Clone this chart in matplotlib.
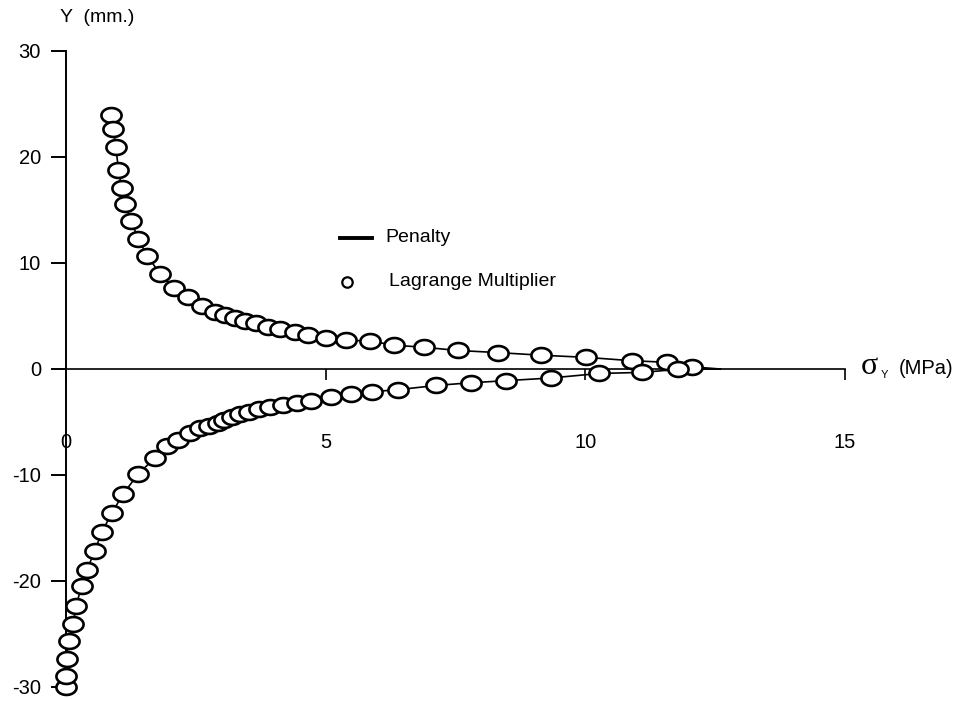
import numpy as np
import matplotlib
matplotlib.use("Agg")
import matplotlib.pyplot as plt
from matplotlib.path import Path

plt.rcParams['font.family'] = ['Liberation Sans', 'DejaVu Sans']

# Lagrange multiplier solution, upper branch (sigma_Y in MPa, Y in mm)
upper_sigma = [0.87, 0.91, 0.96, 1.01, 1.07, 1.14, 1.25, 1.39, 1.56, 1.81, 2.08, 2.35,
               2.61, 2.87, 3.06, 3.25, 3.44, 3.65, 3.89, 4.13, 4.40, 4.66, 5.00, 5.40,
               5.85, 6.31, 6.89, 7.54, 8.31, 9.15, 10.01, 10.90, 11.58, 12.06]
upper_y = [24.0, 22.6, 20.9, 18.8, 17.1, 15.6, 14.0, 12.3, 10.7, 9.0, 7.6, 6.8,
           5.9, 5.4, 5.1, 4.8, 4.55, 4.3, 4.0, 3.75, 3.45, 3.2, 2.9, 2.7,
           2.65, 2.25, 2.05, 1.75, 1.55, 1.3, 1.1, 0.78, 0.63, 0.2]

# Lagrange multiplier solution, lower branch
lower_sigma = [0.0, 0.0, 0.01, 0.05, 0.14, 0.19, 0.30, 0.40, 0.55, 0.69, 0.88, 1.10,
               1.39, 1.71, 1.94, 2.16, 2.38, 2.58, 2.76, 2.92, 3.05, 3.19, 3.35, 3.53,
               3.72, 3.92, 4.17, 4.44, 4.72, 5.11, 5.49, 5.90, 6.40, 7.13, 7.79, 8.48,
               9.33, 10.27, 11.10, 11.78]
lower_y = [-30.0, -29.0, -27.4, -25.7, -24.1, -22.4, -20.5, -19.0, -17.2, -15.4, -13.6, -11.8,
           -9.9, -8.4, -7.3, -6.7, -6.0, -5.6, -5.35, -5.07, -4.8, -4.5, -4.25, -4.03,
           -3.8, -3.55, -3.4, -3.18, -3.0, -2.6, -2.36, -2.14, -1.95, -1.55, -1.3, -1.1,
           -0.85, -0.42, -0.32, -0.03]

# Penalty solution: both branches meet at the end of the contact zone
penalty_end_sigma = 12.6
penalty_end_y = 0.0

x_ticks = [0, 5, 10, 15]
y_ticks = [-30, -20, -10, 0, 10, 20, 30]

W, H = 961, 701
fig = plt.figure(figsize=(W / 100, H / 100), dpi=100)
x0, x1 = 66, 845
y_top, y_bot = 51, 687
ax = fig.add_axes([x0 / W, (H - y_bot) / H, (x1 - x0) / W, (y_bot - y_top) / H])
ax.set_xlim(0, 15)
ax.set_ylim(-30, 30)

# flattened ellipse marker
t = np.linspace(0, 2 * np.pi, 60)
ellipse = Path(np.column_stack([np.cos(t), 0.74 * np.sin(t)]), closed=True)

for xs, ys in ((upper_sigma, upper_y), (lower_sigma, lower_y)):
    px = list(xs) + [penalty_end_sigma]
    py = list(ys) + [penalty_end_y]
    ax.plot(px, py, color='black', lw=1.2, zorder=2, clip_on=False)
    ax.plot(xs, ys, linestyle='none', marker=ellipse, markersize=14.5,
            markerfacecolor='white', markeredgecolor='black',
            markeredgewidth=1.9, zorder=3, clip_on=False)

for s in ('top', 'right'):
    ax.spines[s].set_visible(False)
ax.spines['bottom'].set_position(('data', 0))
ax.spines['bottom'].set_linewidth(1.2)
ax.spines['left'].set_linewidth(1.4)
ax.spines['bottom'].set_zorder(1)

ax.set_xticks(x_ticks)
ax.set_xticklabels([str(v) for v in x_ticks])
ax.set_yticks(y_ticks)
ax.set_yticklabels([str(v) for v in y_ticks])
ax.tick_params(axis='x', direction='out', length=8, width=1.2, pad=38,
               labelsize=14.5, colors='black')
ax.tick_params(axis='y', direction='out', length=11, width=1.4, pad=7,
               labelsize=14.5, colors='black')

fig.text(60 / W, 1 - 18 / H, 'Y  (mm.)', fontsize=14, ha='left', va='center')
fig.text(861 / W, 1 - 367 / H, 'σ', fontsize=23, family='Liberation Serif',
         ha='left', va='center')
fig.text(881 / W, 1 - 375 / H, 'Y', fontsize=8, ha='left', va='center')
fig.text(899 / W, 1 - 369 / H, '(MPa)', fontsize=14.5, ha='left', va='center')

# legend
lx0, lx1, ly = 340, 372, 238
ax.plot([(lx0 - x0) / 52, (lx1 - x0) / 52],
        [(369 - ly) / 10.6] * 2, color='black', lw=2.8, clip_on=False)
fig.text(385 / W, 1 - ly / H, 'Penalty', fontsize=14, ha='left', va='center')
ax.plot([(347 - x0) / 52], [(369 - 282) / 10.6], linestyle='none', marker='o',
        markersize=7.5, markerfacecolor='white', markeredgecolor='black',
        markeredgewidth=1.6, clip_on=False)
fig.text(389 / W, 1 - 282 / H, 'Lagrange Multiplier', fontsize=14,
         ha='left', va='center')

fig.savefig('out.png', dpi=100, facecolor='white')
